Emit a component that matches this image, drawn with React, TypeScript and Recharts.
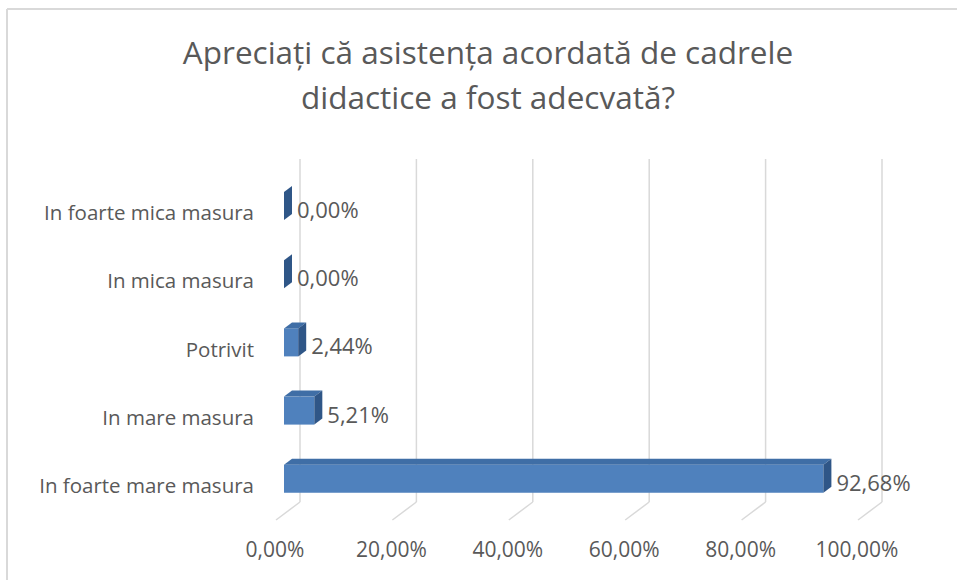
import React from 'react';
import { BarChart, Bar, XAxis, YAxis, CartesianGrid, LabelList } from 'recharts';

const categories = [
  'In foarte mica masura',
  'In mica masura',
  'Potrivit',
  'In mare masura',
  'In foarte mare masura',
];
const percentages = [0, 0, 2.44, 5.21, 92.68];
const xTicks = [0, 20, 40, 60, 80, 100];

const data = categories.map((name, i) => ({ name, value: percentages[i] }));

const TEXT = '#595959';
const GRID = '#d9d9d9';
const FONT = '"Open Sans", sans-serif';
const DX = 8; // 3d depth
const DY = -6;

const fmt = (v: number) => v.toFixed(2).replace('.', ',') + '%';

const Box3D = (props: any) => {
  const { x, y, width, height } = props;
  const w = Math.max(0, width || 0);
  const front = `M${x},${y} h${w} v${height} h${-w} Z`;
  const top = `M${x},${y} l${DX},${DY} h${w} l${-DX},${-DY} Z`;
  const side = `M${x + w},${y} l${DX},${DY} v${height} l${-DX},${-DY} Z`;
  return (
    <g>
      {w > 0 && <path d={front} fill="#4f81bd" />}
      {w > 0 && <path d={top} fill="#3f6ea6" />}
      <path d={side} fill="#2f5687" />
    </g>
  );
};

const GridLine = (props: any) => {
  const x = props.x1;
  return (
    <g key={props.key}>
      <line x1={x + 16} y1={159} x2={x + 16} y2={502} stroke={GRID} strokeWidth={1.5} />
      <line x1={x + 16} y1={502} x2={x - 8} y2={520} stroke={GRID} strokeWidth={1.5} />
    </g>
  );
};

const XTick = (props: any) => {
  const { x, payload } = props;
  return (
    <text x={x - 9} y={549} textAnchor="middle" dominantBaseline="central" fill={TEXT} fontSize={21} fontFamily={FONT}>
      {fmt(payload.value)}
    </text>
  );
};

const YTick = (props: any) => {
  const { y, payload } = props;
  return (
    <text x={254} y={y + 6} textAnchor="end" dominantBaseline="central" fill={TEXT} fontSize={20.5} fontFamily={FONT}>
      {payload.value}
    </text>
  );
};

const ValueLabel = (props: any) => {
  const { x, y, width, height, value } = props;
  return (
    <text x={x + Math.max(0, width) + DX + 5} y={y + height / 2 + 3} dominantBaseline="central" fill={TEXT} fontSize={22} fontFamily={FONT}>
      {fmt(value)}
    </text>
  );
};

export default function App() {
  return (
    <div style={{ position: 'absolute', left: 0, top: 0, width: 957, height: 580, background: '#fff' }}>
      <BarChart
        width={957}
        height={580}
        data={data}
        layout="vertical"
        margin={{ top: 172, right: 91, bottom: 27, left: 34 }}
        barSize={28}
      >
        <CartesianGrid horizontal={false} vertical={GridLine} />
        <XAxis
          type="number"
          domain={[0, 100]}
          ticks={xTicks}
          axisLine={false}
          tickLine={false}
          height={40}
          tick={XTick}
        />
        <YAxis type="category" dataKey="name" width={250} axisLine={false} tickLine={false} tick={YTick} />
        <Bar dataKey="value" shape={Box3D} isAnimationActive={false}>
          <LabelList dataKey="value" content={ValueLabel} />
        </Bar>
      </BarChart>
      <svg width={957} height={580} style={{ position: 'absolute', left: 0, top: 0, pointerEvents: 'none' }}>
        <line x1={7} y1={9} x2={957} y2={9} stroke={GRID} strokeWidth={2} />
        <line x1={7} y1={9} x2={7} y2={580} stroke={GRID} strokeWidth={2} />
        <text x={488} y={64} textAnchor="middle" fill={TEXT} fontSize={31.5} fontFamily={FONT}>
          Apreciați că asistența acordată de cadrele
        </text>
        <text x={488} y={109} textAnchor="middle" fill={TEXT} fontSize={31.5} fontFamily={FONT}>
          didactice a fost adecvată?
        </text>
      </svg>
    </div>
  );
}
